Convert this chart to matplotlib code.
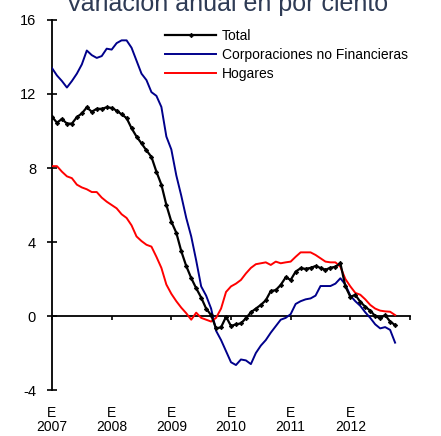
import matplotlib
matplotlib.use("Agg")
import matplotlib.pyplot as plt
import numpy as np

plt.rcParams['font.family'] = ['Liberation Sans', 'DejaVu Sans']

years = ["2007", "2008", "2009", "2010", "2011", "2012"]
year_labels = ["E\n" + y for y in years]

total = [10.77, 10.45, 10.65, 10.4, 10.4, 10.75, 10.95, 11.28, 11.04, 11.2,
         11.2, 11.28, 11.25, 11.1, 10.9, 10.7, 10.15, 9.7, 9.33, 8.95,
         8.6, 7.8, 7.1, 6.0, 5.1, 4.5, 3.5, 2.7, 2.05, 1.5,
         1.0, 0.4, 0.05, -0.67, -0.61, -0.04, -0.54, -0.45, -0.4, -0.12,
         0.2, 0.4, 0.6, 0.85, 1.35, 1.4, 1.68, 2.09, 1.95, 2.4,
         2.58, 2.55, 2.6, 2.7, 2.6, 2.5, 2.61, 2.66, 2.85, 1.6,
         1.04, 1.14, 0.77, 0.5, 0.29, 0.0, -0.12, 0.05, -0.3, -0.49]

corporaciones = [13.4, 13.0, 12.7, 12.35, 12.7, 13.1, 13.6, 14.35, 14.1, 13.95,
                 14.05, 14.45, 14.4, 14.75, 14.9, 14.9, 14.5, 13.8, 13.1, 12.75,
                 12.1, 11.9, 11.3, 9.7, 9.0, 7.6, 6.5, 5.3, 4.3, 3.0,
                 1.6, 1.1, 0.4, -0.8, -1.3, -1.9, -2.5, -2.65, -2.35, -2.4,
                 -2.6, -2.0, -1.6, -1.3, -0.9, -0.55, -0.2, -0.1, 0.1, 0.65,
                 0.8, 0.9, 0.95, 1.1, 1.62, 1.62, 1.62, 1.75, 2.04, 1.7,
                 1.1, 0.8, 0.55, 0.2, -0.1, -0.45, -0.67, -0.6, -0.75, -1.44]

hogares = [8.1, 8.1, 7.8, 7.55, 7.45, 7.1, 6.95, 6.85, 6.7, 6.7,
           6.4, 6.18, 6.0, 5.82, 5.5, 5.3, 4.9, 4.3, 4.05, 3.85,
           3.75, 3.2, 2.6, 1.7, 1.2, 0.8, 0.45, 0.15, -0.2, 0.18,
           -0.1, -0.2, -0.3, -0.1, 0.4, 1.3, 1.6, 1.75, 1.95, 2.3,
           2.6, 2.8, 2.85, 2.9, 2.76, 2.94, 2.85, 2.9, 2.94, 3.2,
           3.44, 3.44, 3.44, 3.3, 3.12, 2.94, 2.9, 2.9, 2.66, 2.0,
           1.6, 1.25, 1.15, 0.9, 0.6, 0.4, 0.29, 0.25, 0.23, 0.05]

months = np.arange(len(total))
year_ticks = np.arange(len(years) + 1) * 12

fig = plt.figure(figsize=(4.41, 4.36), dpi=100)
ax = fig.add_axes([52/441, 1-390/436, (410-52)/441, (390-20)/436])

ax.plot(months, total, color='black', lw=1.6, marker='D', ms=2.3, mec='black',
        mew=0.5, label='Total', zorder=4)
ax.plot(months, corporaciones, color='#00008B', lw=1.4,
        label='Corporaciones no Financieras', zorder=3)
ax.plot(months, hogares, color='#FF0000', lw=1.4, label='Hogares', zorder=3)

ax.set_xlim(0, 70)
ax.set_ylim(-4, 16)
ax.set_yticks([-4, 0, 4, 8, 12, 16])
ax.set_yticklabels(['-4', '0', '4', '8', '12', '16'])

ax.spines['top'].set_visible(False)
ax.spines['right'].set_visible(False)
ax.spines['bottom'].set_position(('data', 0))
ax.spines['left'].set_linewidth(1.3)
ax.spines['bottom'].set_linewidth(1.3)

ax.set_xticks(year_ticks)
ax.set_xticklabels(year_labels + [""], linespacing=1.0)
ax.tick_params(axis='x', direction='out', length=3, width=1.2, pad=62,
               labelsize=10)
ax.tick_params(axis='y', direction='inout', length=7, width=1.2, pad=8,
               labelsize=10.5)

leg = ax.legend(loc='upper left', bbox_to_anchor=(165/441, 1-29/436),
                bbox_transform=fig.transFigure, frameon=False, fontsize=10,
                handlelength=3.7, handletextpad=0.4, labelspacing=0.35,
                borderpad=0, borderaxespad=0)

fig.text(0.515, 1 - 11/436, "Variación anual en por ciento", ha='center',
         va='baseline', fontsize=18, color='#2E3B55')

fig.savefig("out.png", dpi=100)
